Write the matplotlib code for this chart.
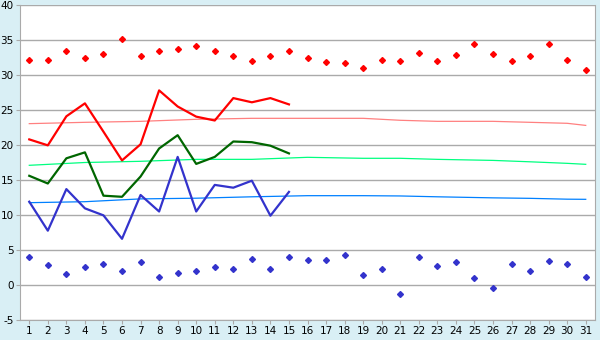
import matplotlib
matplotlib.use("Agg")
import matplotlib.pyplot as plt

plt.rcParams["axes.unicode_minus"] = False

days = list(range(1, 32))
days_line = list(range(1, 16))

high_pts = [32.2, 32.1, 33.5, 32.5, 32.95, 35.2, 32.7, 33.4, 33.7, 34.2,
            33.4, 32.7, 32.0, 32.7, 33.4, 32.4, 31.8, 31.7, 31.0, 32.2,
            32.0, 33.1, 32.0, 32.8, 34.4, 32.95, 32.0, 32.7, 34.4, 32.2, 30.7]
low_pts = [3.95, 2.8, 1.52, 2.52, 2.95, 1.95, 3.24, 1.1, 1.67, 1.95,
           2.52, 2.24, 3.67, 2.24, 3.95, 3.52, 3.52, 4.24, 1.38, 2.24,
           -1.33, 3.95, 2.67, 3.24, 0.95, -0.48, 2.95, 1.95, 3.38, 2.95, 1.1]

max_line = [20.8, 19.95, 24.1, 25.95, 21.9, 17.8, 20.1, 27.8, 25.5, 24.05,
            23.5, 26.7, 26.1, 26.7, 25.8]
mean_line = [15.6, 14.5, 18.1, 18.95, 12.76, 12.6, 15.5, 19.5, 21.4, 17.3,
             18.3, 20.5, 20.4, 19.9, 18.8]
min_line = [11.9, 7.76, 13.7, 10.95, 9.95, 6.6, 12.86, 10.5, 18.3, 10.5,
            14.3, 13.9, 14.9, 9.9, 13.3]

# trend curves, read at a few days
trend_days = [1, 4, 7, 10, 13, 16, 19, 21, 23, 26, 28, 30, 31]
max_trend = [23.05, 23.24, 23.38, 23.67, 23.81, 23.81, 23.81, 23.53, 23.38, 23.38, 23.24, 23.1, 22.8]
mean_trend = [17.1, 17.5, 17.67, 17.95, 17.95, 18.24, 18.1, 18.1, 17.95, 17.8, 17.6, 17.38, 17.24]
min_trend = [11.76, 11.9, 12.3, 12.4, 12.6, 12.76, 12.76, 12.72, 12.6, 12.45, 12.38, 12.26, 12.24]

fig = plt.figure(figsize=(6, 3.4), dpi=100)
fig.patch.set_facecolor("#d9eff5")
ax = fig.add_axes([20/600, 20/340, 575/600, 315/340])
ax.set_facecolor("white")

# trend lines
ax.plot(trend_days, max_trend, color="#ff8080", lw=0.9)
ax.plot(trend_days, mean_trend, color="#00ff80", lw=0.9)
ax.plot(trend_days, min_trend, color="#0080ff", lw=0.9)

# daily lines
ax.plot(days_line, max_line, color="#ff0000", lw=1.6)
ax.plot(days_line, mean_line, color="#006600", lw=1.6)
ax.plot(days_line, min_line, color="#3333cc", lw=1.6)

# extremes
ax.plot(days, high_pts, ls="none", marker="D", ms=3, color="#ff0000")
ax.plot(days, low_pts, ls="none", marker="D", ms=3, color="#3333cc")

ax.set_xlim(0.5, 31.5)
ax.set_ylim(-5, 40)
ax.set_xticks(days)
ax.set_yticks(range(-5, 41, 5))
ax.yaxis.grid(True, color="#aaaaaa", lw=1)
ax.set_axisbelow(True)
for s in ax.spines.values():
    s.set_color("#aaaaaa")
ax.spines["top"].set_visible(False)
ax.tick_params(colors="#aaaaaa", labelcolor="black", labelsize=7.5, length=3, pad=1.5)

fig.savefig("out.png", dpi=100, facecolor=fig.get_facecolor())
